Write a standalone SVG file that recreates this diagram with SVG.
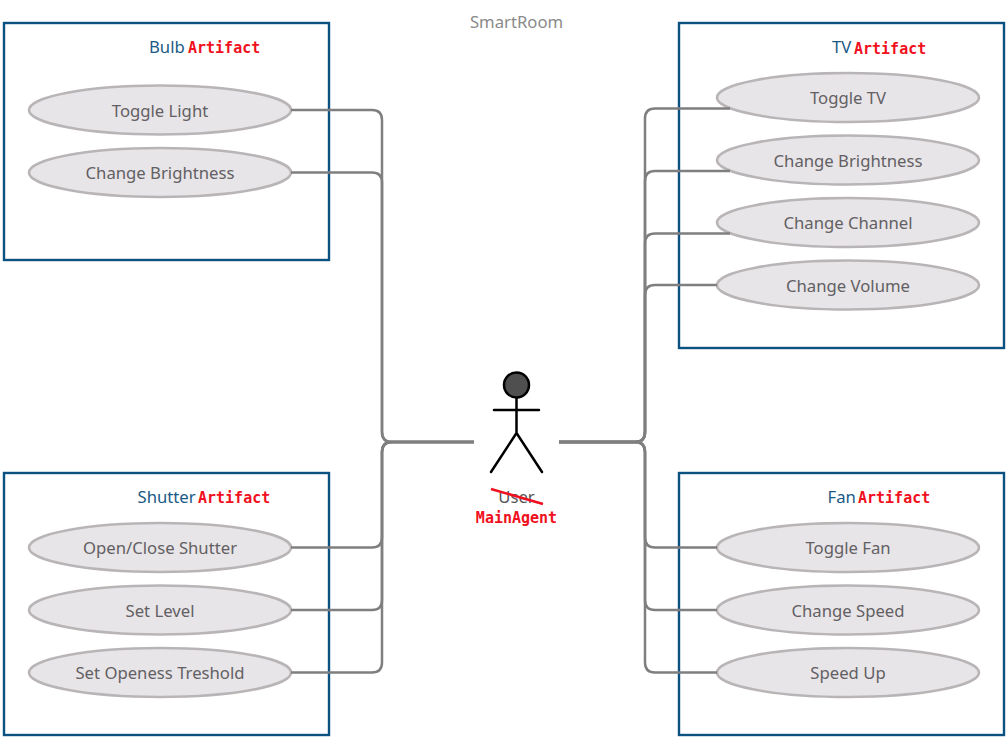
<svg xmlns="http://www.w3.org/2000/svg" width="1007" height="747" viewBox="0 0 1007 747">
<style>
.box{fill:#fff;stroke:#0b5282;stroke-width:2.4}
.uc{fill:#e8e5e8;stroke:#b9b5b7;stroke-width:2.6}
.ut{font:16.700px "Noto Sans",sans-serif;fill:#626063;text-anchor:middle}
.bt{font:16.700px "Noto Sans",sans-serif;fill:#1b5a86}
.art{font:bold 15px "DejaVu Sans Mono",monospace;fill:#f01020}
.con{fill:none;stroke:#7f7f7f;stroke-width:2.5}
.fig{fill:none;stroke:#000;stroke-width:2.5;stroke-linecap:round}
</style>
<rect width="1007" height="747" fill="#fff"/>
<text x="516.500" y="27.500" style="font:16.700px 'Noto Sans',sans-serif;fill:#8a8a8a;text-anchor:middle">SmartRoom</text>
<g id="bulb"><rect class="box" x="4" y="23" width="325" height="237"/><text class="bt" x="149" y="53">Bulb</text><text class="art" x="188" y="52.500">Artifact</text></g>
<g id="tv"><rect class="box" x="679" y="23" width="325" height="325"/><text class="bt" x="832" y="53">TV</text><text class="art" x="854" y="53.500">Artifact</text></g>
<g id="shutter"><rect class="box" x="4" y="473" width="325" height="262"/><text class="bt" x="137.500" y="503">Shutter</text><text class="art" x="198" y="502.500">Artifact</text></g>
<g id="fan"><rect class="box" x="679" y="473" width="325" height="262"/><text class="bt" x="827.500" y="503">Fan</text><text class="art" x="858" y="502.500">Artifact</text></g>
<g id="usecases">
<g id="uc1"><ellipse class="uc" cx="160" cy="110" rx="131" ry="24.500"/><text class="ut" x="160" y="117">Toggle Light</text></g>
<g id="uc2"><ellipse class="uc" cx="160" cy="172.500" rx="131" ry="24.500"/><text class="ut" x="160" y="179">Change Brightness</text></g>
<g id="uc3"><ellipse class="uc" cx="848" cy="97.500" rx="131" ry="24.500"/><text class="ut" x="848" y="104">Toggle TV</text></g>
<g id="uc4"><ellipse class="uc" cx="848" cy="160" rx="131" ry="24.500"/><text class="ut" x="848" y="167">Change Brightness</text></g>
<g id="uc5"><ellipse class="uc" cx="848" cy="222.500" rx="131" ry="24.500"/><text class="ut" x="848" y="229">Change Channel</text></g>
<g id="uc6"><ellipse class="uc" cx="848" cy="285" rx="131" ry="24.500"/><text class="ut" x="848" y="292">Change Volume</text></g>
<g id="uc7"><ellipse class="uc" cx="160" cy="547.500" rx="131" ry="24.500"/><text class="ut" x="160" y="554">Open/Close Shutter</text></g>
<g id="uc8"><ellipse class="uc" cx="160" cy="610" rx="131" ry="24.500"/><text class="ut" x="160" y="617">Set Level</text></g>
<g id="uc9"><ellipse class="uc" cx="160" cy="672.500" rx="131" ry="24.500"/><text class="ut" x="160" y="679">Set Openess Treshold</text></g>
<g id="uc10"><ellipse class="uc" cx="848" cy="547.500" rx="131" ry="24.500"/><text class="ut" x="848" y="554">Toggle Fan</text></g>
<g id="uc11"><ellipse class="uc" cx="848" cy="610" rx="131" ry="24.500"/><text class="ut" x="848" y="617">Change Speed</text></g>
<g id="uc12"><ellipse class="uc" cx="848" cy="672.500" rx="131" ry="24.500"/><text class="ut" x="848" y="679">Speed Up</text></g>
</g>
<g id="connectors">
<path class="con" d="M291 110H372Q382 110 382 120V432Q382 442 392 442H474"/>
<path class="con" d="M291 172.500H372Q382 172.500 382 182.500V432Q382 442 392 442H474"/>
<path class="con" d="M291 547.500H372Q382 547.500 382 537.500V452Q382 442 392 442H474"/>
<path class="con" d="M291 610H372Q382 610 382 600V452Q382 442 392 442H474"/>
<path class="con" d="M291 672.500H372Q382 672.500 382 662.500V452Q382 442 392 442H474"/>
<path class="con" d="M730 108.500H655Q645 108.500 645 118.500V432Q645 442 635 442H559"/>
<path class="con" d="M730 171H655Q645 171 645 181V432Q645 442 635 442H559"/>
<path class="con" d="M730 233.500H655Q645 233.500 645 243.500V432Q645 442 635 442H559"/>
<path class="con" d="M717 285H655Q645 285 645 295V432Q645 442 635 442H559"/>
<path class="con" d="M717 547.500H655Q645 547.500 645 537.500V452Q645 442 635 442H559"/>
<path class="con" d="M717 610H655Q645 610 645 600V452Q645 442 635 442H559"/>
<path class="con" d="M717 672.500H655Q645 672.500 645 662.500V452Q645 442 635 442H559"/>
</g>
<g id="actor">
<circle cx="516.500" cy="385" r="12.500" fill="#4f4f4f" stroke="#000" stroke-width="2.500"/>
<path class="fig" d="M516.500 398V433M494 410H539M516.500 433L491 472M516.500 433L542 472"/>
<text x="516.500" y="503" style="font:16.700px 'Noto Sans',sans-serif;fill:#555;text-anchor:middle">User</text>
<path d="M491 489L543 504" stroke="#f01020" stroke-width="2.500" fill="none"/>
<text class="art" x="516.500" y="523" text-anchor="middle">MainAgent</text>
</g>
</svg>
